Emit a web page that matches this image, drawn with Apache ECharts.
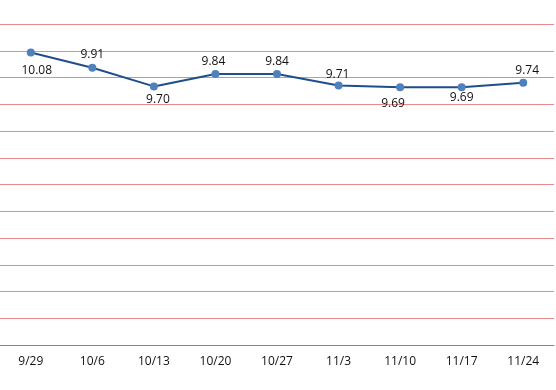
<!DOCTYPE html>
<html>
<head>
<meta charset="utf-8">
<script src="https://cdn.jsdelivr.net/npm/echarts@6/dist/echarts.min.js"></script>
<style>
html,body{margin:0;padding:0;background:#fff;}
#c{width:556px;height:390px;}
</style>
</head>
<body>
<div id="c"></div>
<script>
const categories = ['9/29', '10/6', '10/13', '10/20', '10/27', '11/3', '11/10', '11/17', '11/24'];
const values = [10.08, 9.91, 9.70, 9.84, 9.84, 9.71, 9.69, 9.69, 9.74];
const labels = ['10.08', '9.91', '9.70', '9.84', '9.84', '9.71', '9.69', '9.69', '9.74'];

// layout of the value labels (pixel offsets from each point)
const labelOffsets = [[6, 18], [0, -13], [4, 13], [-2, -12], [0, -12], [-1, -11], [-7, 16], [0, 10], [4, -12]];

const chart = echarts.init(document.getElementById('c'), null, {renderer: 'canvas'});
chart.setOption({
  animation: false,
  backgroundColor: '#ffffff',
  grid: {left: -2, right: 2, top: 24, bottom: 45, containLabel: false},
  xAxis: {
    type: 'category',
    data: categories,
    boundaryGap: true,
    axisLine: {show: true, lineStyle: {color: '#868686', width: 1}},
    axisTick: {show: false},
    axisLabel: {color: '#111', fontSize: 12, fontFamily: 'Open Sans', margin: 11},
    splitLine: {show: false}
  },
  yAxis: {
    type: 'value',
    min: 6.8,
    max: 10.4,
    interval: 0.3,
    axisLine: {show: false},
    axisTick: {show: false},
    axisLabel: {show: false},
    splitLine: {show: true, lineStyle: {color: '#E88A8A', width: 1}}
  },
  series: [{
    type: 'line',
    data: values.map((v, i) => ({
      value: v,
      label: {offset: labelOffsets[i], formatter: labels[i]}
    })),
    lineStyle: {color: '#1F4E8C', width: 2},
    symbol: 'circle',
    symbolSize: 8,
    itemStyle: {color: '#4F81BD'},
    label: {
      show: true,
      position: 'inside',
      color: '#111',
      fontSize: 12,
      fontFamily: 'Open Sans'
    }
  }]
});
</script>
</body>
</html>
